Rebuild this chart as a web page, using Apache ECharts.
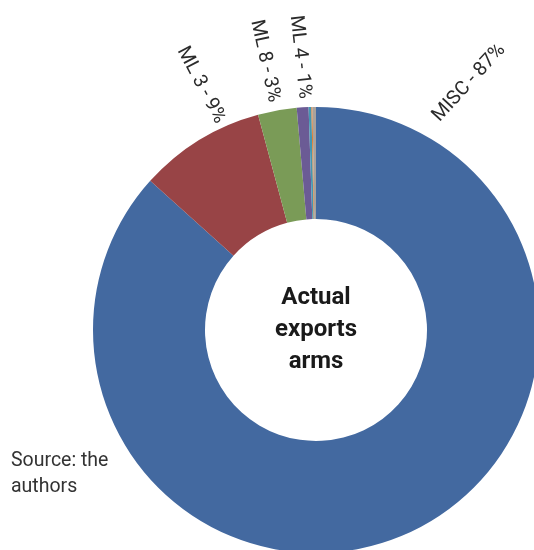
<!DOCTYPE html>
<html>
<head>
<meta charset="utf-8">
<script src="https://cdn.jsdelivr.net/npm/echarts@6/dist/echarts.min.js"></script>
<style>
html,body{margin:0;padding:0;background:#fff;}
#main{width:534px;height:550px;}
</style>
</head>
<body>
<div id="main"></div>
<script>
// Data
const categories = ['MISC', 'ML 3', 'ML 8', 'ML 4', 'ML 5', 'ML 6', 'ML 7'];
const shares = [86.6, 9.15, 2.8, 0.85, 0.2, 0.08, 0.25];
const labelled = ['MISC', 'ML 3', 'ML 8', 'ML 4'];
const centerTitle = ['Actual', 'exports', 'arms'];
const sourceText = ['Source: the', 'authors'];

// Styling (kept apart from the data)
const colors = ['#4369a0', '#984446', '#7a9b57', '#6b5b95', '#4498b2', '#e07b2c', '#a8a29c'];
const labelSpots = {
  'MISC': {x: 469, y: 83, rotate: 47.5},
  'ML 3': {x: 201, y: 85, rotate: -62.4},
  'ML 8': {x: 265, y: 61, rotate: -77.6},
  'ML 4': {x: 300, y: 57, rotate: -83.8}
};

const chart = echarts.init(document.getElementById('main'), null, {renderer: 'canvas'});
const fontFamily = 'Roboto, "Liberation Sans", sans-serif';

chart.setOption({
  animation: false,
  color: colors,
  series: [{
    type: 'pie',
    center: [316, 330],
    radius: [111, 223],
    startAngle: 90,
    clockwise: true,
    avoidLabelOverlap: false,
    itemStyle: {borderWidth: 0},
    emphasis: {disabled: true},
    labelLine: {show: false},
    label: {
      show: true,
      position: 'outside',
      color: '#2b2b2b',
      fontFamily: fontFamily,
      fontSize: 19.5,
      formatter: p => labelled.indexOf(p.name) >= 0 ? p.name + ' - ' + Math.round(p.percent) + '%' : ''
    },
    labelLayout: function (params) {
      const name = categories[params.dataIndex];
      const s = labelSpots[name];
      if (!s) return {};
      return {x: s.x, y: s.y, rotate: s.rotate, align: 'center', verticalAlign: 'middle'};
    },
    data: categories.map((c, i) => ({name: c, value: shares[i]}))
  }],
  graphic: [
    {
      type: 'text', x: 316, y: 330,
      style: {
        text: centerTitle.join('\n'),
        align: 'center', verticalAlign: 'middle',
        font: 'bold 24px ' + fontFamily, fill: '#1a1a1a', lineHeight: 32
      }
    },
    {
      type: 'text', x: 11, y: 448,
      style: {
        text: sourceText.join('\n'),
        align: 'left', verticalAlign: 'top',
        font: '19.5px ' + fontFamily, fill: '#333333', lineHeight: 26
      }
    }
  ]
});
</script>
</body>
</html>
